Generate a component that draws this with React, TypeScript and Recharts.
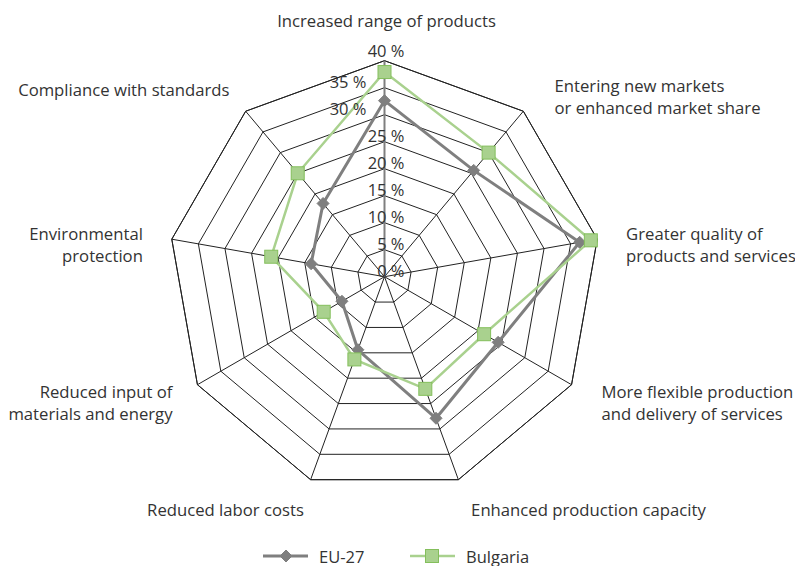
import { RadarChart, Radar, PolarGrid, PolarAngleAxis, PolarRadiusAxis, Legend } from "recharts";

const categories = [
    "Increased range of products",
    "Entering new markets\nor enhanced market share",
    "Greater quality of\nproducts and services",
    "More flexible production\nand delivery of services",
    "Enhanced production capacity",
    "Reduced labor costs",
    "Reduced input of\nmaterials and energy",
    "Environmental\nprotection",
    "Compliance with standards",
];

const eu27 = [32.6, 25.7, 36.7, 24.3, 27.9, 14.4, 9.1, 13.8, 17.7];
const bulgaria = [37.9, 30.0, 38.8, 21.3, 22.1, 16.3, 13.0, 21.3, 25.0];

const radiusTicks = [0, 5, 10, 15, 20, 25, 30, 35, 40];

const chartData = categories.map((c, i) => ({ category: c, eu27: eu27[i], bulgaria: bulgaria[i] }));

const FONT = "'Open Sans', sans-serif";
const TEXT = "#333333";
const GRAY = "#7f7f7f";
const GREEN = "#a9d18e";
const GREEN_DARK = "#84bf5c";

// label placement relative to the tick point, per category
const labelLayout = [
    { dx: 2, dy: -33, anchor: "middle" },
    { dx: 26, dy: -20, anchor: "start" },
    { dx: 21, dy: -5, anchor: "start" },
    { dx: 23, dy: 2, anchor: "start" },
    { dx: 10, dy: 22, anchor: "start" },
    { dx: -4, dy: 22, anchor: "end" },
    { dx: -18, dy: 2, anchor: "end" },
    { dx: -21, dy: -5, anchor: "end" },
    { dx: -11, dy: -16, anchor: "end" },
];

function CategoryTick(props: any) {
    const { x, y, payload, index } = props;
    const l = labelLayout[index] || { dx: 0, dy: 0, anchor: "middle" };
    const lines = String(payload.value).split("\n");
    return (
        <text x={x + l.dx} y={y + l.dy} textAnchor={l.anchor} fontFamily={FONT} fontSize={16.7} fill={TEXT} dominantBaseline="central">
            {lines.map((ln, i) => (
                <tspan key={i} x={x + l.dx} dy={i === 0 ? 0 : 22}>{ln}</tspan>
            ))}
        </text>
    );
}

function RadiusTick(props: any) {
    const { x, y, payload } = props;
    const v = payload.value;
    const shifted = v === 30 || v === 35;
    const tx = shifted ? x - 18 : x + 20;
    const ty = v === 40 ? y - 10 : y - 6;
    return (
        <text x={tx} y={ty} textAnchor="end" dominantBaseline="central" fontFamily={FONT} fontSize={16.5} fill={TEXT}>
            {v} %
        </text>
    );
}

function Diamond(props: any) {
    const { cx, cy } = props;
    const s = 6;
    return <path d={`M${cx},${cy - s}L${cx + s},${cy}L${cx},${cy + s}L${cx - s},${cy}Z`} fill={GRAY} stroke={GRAY} />;
}

function Square(props: any) {
    const { cx, cy } = props;
    const s = 6.5;
    return <rect x={cx - s} y={cy - s} width={s * 2} height={s * 2} fill={GREEN} stroke={GREEN_DARK} strokeWidth={1} />;
}

function LegendContent() {
    return (
        <svg width={795} height={21}>
            <g>
                <line x1={263} x2={308} y1={11} y2={11} stroke={GRAY} strokeWidth={3} />
                <Diamond cx={286} cy={11} />
                <text x={319} y={11} dominantBaseline="central" fontFamily={FONT} fontSize={16.5} fill={TEXT}>EU-27</text>
            </g>
            <g>
                <line x1={410} x2={455} y1={11} y2={11} stroke={GREEN} strokeWidth={2.5} />
                <Square cx={432} cy={11} />
                <text x={466} y={11} dominantBaseline="central" fontFamily={FONT} fontSize={16.5} fill={TEXT}>Bulgaria</text>
            </g>
        </svg>
    );
}

export default function App() {
    return (
        <div style={{ position: "absolute", left: 0, top: 0, width: 795, height: 566, background: "#fff" }}>
            <RadarChart width={795} height={566} data={chartData} cx={384.5} cy={276.7} outerRadius={216}
                margin={{ top: 0, right: 0, bottom: 0, left: 0 }} startAngle={90} endAngle={-270}>
                <PolarGrid gridType="polygon" stroke="#222" strokeWidth={1} />
                <PolarAngleAxis dataKey="category" tick={<CategoryTick />} tickLine={false} axisLine={{ stroke: "#222" }} />
                <PolarRadiusAxis angle={90} domain={[0, 40]} ticks={radiusTicks as any} tickCount={9}
                    axisLine={{ stroke: GRAY, strokeWidth: 2 }} tick={<RadiusTick />} tickLine={false} />
                <Radar name="EU-27" dataKey="eu27" stroke={GRAY} strokeWidth={3} fill="none" fillOpacity={0}
                    dot={<Diamond />} isAnimationActive={false} />
                <Radar name="Bulgaria" dataKey="bulgaria" stroke={GREEN} strokeWidth={2.5} fill="none" fillOpacity={0}
                    dot={<Square />} isAnimationActive={false} />
                <Legend content={<LegendContent />} wrapperStyle={{ left: 0, top: 545, width: 795, height: 21 }} />
            </RadarChart>
        </div>
    );
}
